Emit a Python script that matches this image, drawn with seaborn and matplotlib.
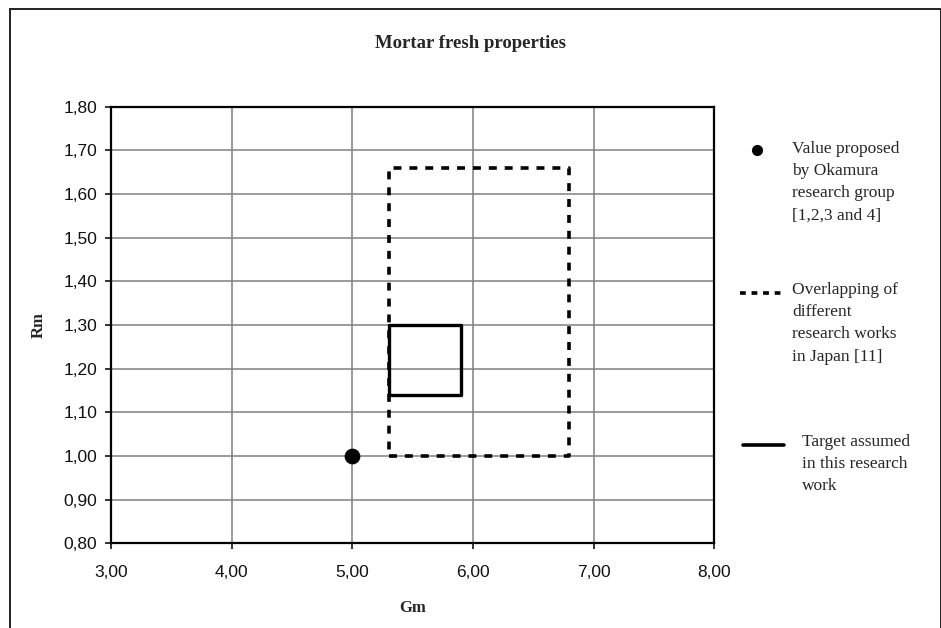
import matplotlib
matplotlib.use("Agg")
import matplotlib.pyplot as plt
from matplotlib.ticker import FuncFormatter, MultipleLocator
from matplotlib.patches import Rectangle
from matplotlib.lines import Line2D
import seaborn as sns
import pandas as pd

# Okamura proposed value
okamura_gm = [5.00]
okamura_rm = [1.00]

# Overlapping zone of Japanese research works (rectangle corners)
japan_gm = [5.30, 6.80, 6.80, 5.30, 5.30]
japan_rm = [1.00, 1.00, 1.66, 1.66, 1.00]

# Target zone of this research work
target_gm = [5.30, 5.90, 5.90, 5.30, 5.30]
target_rm = [1.14, 1.14, 1.30, 1.30, 1.14]

legend_texts = [
    "Value proposed\nby Okamura\nresearch group\n[1,2,3 and 4]",
    "Overlapping of\ndifferent\nresearch works\nin Japan [11]",
    "Target assumed\nin this research\nwork",
]

sns.set_theme(style="white")
plt.rcParams["font.family"] = ["Liberation Sans", "DejaVu Sans"]

fig = plt.figure(figsize=(9.41, 6.28), dpi=100)
ax = fig.add_axes([0.118, 0.135, 0.641, 0.695])

japan = pd.DataFrame({"Gm": japan_gm, "Rm": japan_rm})
target = pd.DataFrame({"Gm": target_gm, "Rm": target_rm})
okamura = pd.DataFrame({"Gm": okamura_gm, "Rm": okamura_rm})

sns.lineplot(data=japan, x="Gm", y="Rm", sort=False, estimator=None,
             color="black", lw=2.6, ax=ax, zorder=3)
ax.lines[-1].set_dashes([2.2, 2.2])
sns.lineplot(data=target, x="Gm", y="Rm", sort=False, estimator=None,
             color="black", lw=2.4, ax=ax, zorder=3)
sns.scatterplot(data=okamura, x="Gm", y="Rm", color="black", s=110,
                edgecolor="black", ax=ax, zorder=4)

ax.set_xlim(3, 8)
ax.set_ylim(0.8, 1.8)
ax.xaxis.set_major_locator(MultipleLocator(1))
ax.yaxis.set_major_locator(MultipleLocator(0.1))
fmt = FuncFormatter(lambda v, p: f"{v:.2f}".replace(".", ","))
ax.xaxis.set_major_formatter(fmt)
ax.yaxis.set_major_formatter(fmt)
ax.grid(True, color="#808080", lw=1.1)
for s in ax.spines.values():
    s.set_color("black")
    s.set_linewidth(1.6)
ax.tick_params(axis="both", labelsize=12.5, colors="#111111", length=4,
               direction="out", left=True, bottom=True, width=1.2, pad=6)
ax.tick_params(axis="x", pad=12)
ax.set_xlabel("Gm", family="Liberation Serif", fontweight="bold",
              fontsize=12, labelpad=14)
ax.set_ylabel("Rm", family="Liberation Serif", fontweight="bold",
              fontsize=12, labelpad=12)

fig.text(0.5, 1 - 43 / 628, "Mortar fresh properties", ha="center", va="center",
         family="Liberation Serif", fontweight="bold", fontsize=13.5)

# outer frame
fig.patches.append(Rectangle((0.0105, -0.02), 0.99, 1.006, transform=fig.transFigure,
                             fill=False, edgecolor="#222222", lw=1.4))

# legend drawn at the right side
h = 628
fig.add_artist(Line2D([757 / 941], [1 - 150 / h], marker="o", color="black",
                      markersize=7, transform=fig.transFigure))
fig.add_artist(Line2D([740 / 941, 782 / 941], [1 - 293 / h] * 2, color="black",
                      lw=2.6, dashes=[1.6, 1.6], transform=fig.transFigure))
fig.add_artist(Line2D([743 / 941, 784 / 941], [1 - 445 / h] * 2, color="black",
                      lw=2.6, transform=fig.transFigure))
text_pos = [(792, 141), (792, 282), (802, 434)]
for (tx, ty), txt in zip(text_pos, legend_texts):
    fig.text(tx / 941, 1 - ty / h, txt, ha="left", va="top",
             family="Liberation Serif", fontsize=12.5, linespacing=1.52)

fig.savefig("out.png", dpi=100)
